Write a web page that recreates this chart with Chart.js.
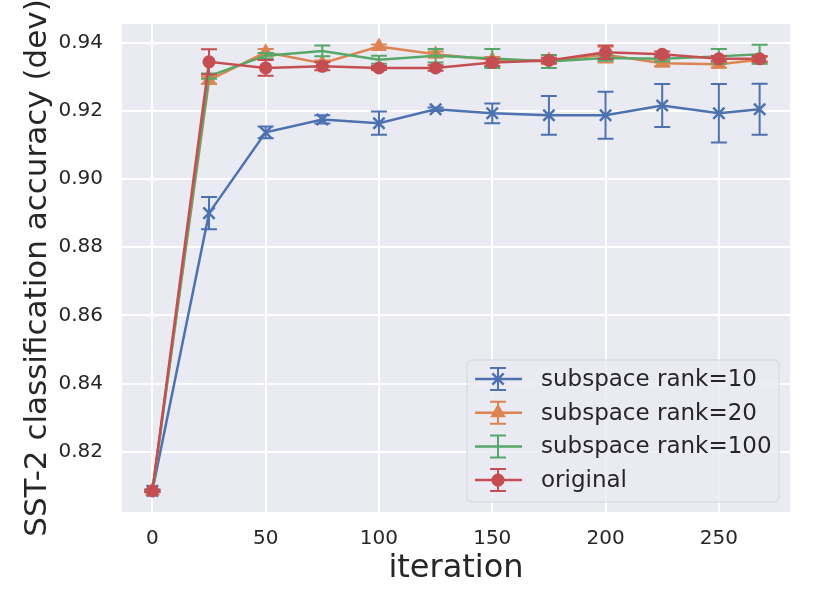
<!DOCTYPE html>
<html>
<head>
<meta charset="utf-8">
<script src="https://cdn.jsdelivr.net/npm/chart.js@4.4.0/dist/chart.umd.min.js"></script>
<style>
  html, body { margin: 0; padding: 0; background: #fff; }
  #wrap { width: 814px; height: 610px; }
</style>
</head>
<body>
<div id="wrap"><canvas id="accChart" width="814" height="610"></canvas></div>
<script>
// iterations and accuracies
const iterations = [0, 25, 50, 75, 100, 125, 150, 175, 200, 225, 250, 268];

const rank10 = [0.8085, 0.8900, 0.9137, 0.9175, 0.9164, 0.9205, 0.9193, 0.9187, 0.9187, 0.9216, 0.9193, 0.9205];
const rank10Err = [0.0003, 0.0047, 0.0017, 0.0012, 0.0034, 0.0005, 0.0029, 0.0057, 0.0069, 0.0063, 0.0086, 0.0075];

const rank20 = [0.8085, 0.9290, 0.9372, 0.9340, 0.9389, 0.9366, 0.9350, 0.9348, 0.9365, 0.9340, 0.9337, 0.9350];
const rank20Err = [0.0003, 0.0010, 0.0010, 0.0008, 0.0006, 0.0008, 0.0008, 0.0008, 0.0023, 0.0008, 0.0010, 0.0008];

const rank100 = [0.8085, 0.9302, 0.9362, 0.9376, 0.9350, 0.9362, 0.9354, 0.9345, 0.9355, 0.9353, 0.9360, 0.9366];
const rank100Err = [0.0003, 0.0008, 0.0008, 0.0016, 0.0012, 0.0020, 0.0028, 0.0019, 0.0008, 0.0008, 0.0022, 0.0028];

const original = [0.8085, 0.9344, 0.9326, 0.9331, 0.9326, 0.9326, 0.9342, 0.9348, 0.9372, 0.9366, 0.9353, 0.9353];
const originalErr = [0.0003, 0.0037, 0.0023, 0.0012, 0.0006, 0.0008, 0.0010, 0.0008, 0.0020, 0.0008, 0.0008, 0.0008];

const xTicks = [0, 50, 100, 150, 200, 250];
const yTicks = [0.82, 0.84, 0.86, 0.88, 0.90, 0.92, 0.94];

const FONT = "'DejaVu Sans', sans-serif";
const TEXT = '#262626';

function pts(ys) {
  return iterations.map((x, i) => ({ x: x, y: ys[i] }));
}

const series = [
  { label: 'subspace rank=10', data: rank10, err: rank10Err, color: '#4c72b0', marker: 'crossRot', radius: 8, order: 4 },
  { label: 'subspace rank=20', data: rank20, err: rank20Err, color: '#dd8452', marker: 'triangle', radius: 6.5, order: 3 },
  { label: 'subspace rank=100', data: rank100, err: rank100Err, color: '#55a868', marker: false, radius: 0, order: 2 },
  { label: 'original', data: original, err: originalErr, color: '#c44e52', marker: 'circle', radius: 5.3, order: 1 }
];

// axes background (seaborn darkgrid)
const bgPlugin = {
  id: 'bg',
  beforeDraw(chart) {
    const { ctx, chartArea: a } = chart;
    ctx.save();
    ctx.fillStyle = '#eaeaf2';
    ctx.fillRect(a.left, a.top, a.right - a.left, a.bottom - a.top);
    ctx.restore();
  }
};

// error bars, drawn right after each dataset so stacking matches
const errPlugin = {
  id: 'errbars',
  afterDatasetDraw(chart, args) {
    const ds = chart.data.datasets[args.index];
    const yScale = chart.scales.y;
    const ctx = chart.ctx;
    ctx.save();
    ctx.strokeStyle = ds.borderColor;
    ctx.lineWidth = 2;
    args.meta.data.forEach((p, i) => {
      const v = ds.data[i].y, e = ds.errors[i];
      const y1 = yScale.getPixelForValue(v - e);
      const y2 = yScale.getPixelForValue(v + e);
      ctx.beginPath();
      ctx.moveTo(p.x, y1); ctx.lineTo(p.x, y2);
      ctx.moveTo(p.x - 8, y1); ctx.lineTo(p.x + 8, y1);
      ctx.moveTo(p.x - 8, y2); ctx.lineTo(p.x + 8, y2);
      ctx.stroke();
    });
    ctx.restore();
  }
};

// legend box in the lower right of the axes
const legendPlugin = {
  id: 'boxLegend',
  afterDraw(chart) {
    const ctx = chart.ctx;
    const bx = 467, by = 360, bw = 312, bh = 142;
    ctx.save();
    ctx.beginPath();
    ctx.roundRect(bx, by, bw, bh, 5);
    ctx.fillStyle = 'rgba(234,234,242,0.8)';
    ctx.fill();
    ctx.strokeStyle = '#d5d5dc';
    ctx.lineWidth = 1;
    ctx.stroke();
    ctx.font = '23px ' + FONT;
    ctx.textBaseline = 'middle';
    chart.data.datasets.forEach((ds, i) => {
      const cy = 379 + i * 33.7;
      const cx = 498;
      ctx.strokeStyle = ds.borderColor;
      ctx.fillStyle = ds.borderColor;
      ctx.lineWidth = 2.5;
      ctx.beginPath();
      ctx.moveTo(475, cy); ctx.lineTo(522, cy);
      ctx.stroke();
      ctx.lineWidth = 2;
      ctx.beginPath();
      ctx.moveTo(cx, cy - 11); ctx.lineTo(cx, cy + 11);
      ctx.moveTo(cx - 8, cy - 11); ctx.lineTo(cx + 8, cy - 11);
      ctx.moveTo(cx - 8, cy + 11); ctx.lineTo(cx + 8, cy + 11);
      ctx.stroke();
      if (ds.pointStyle) {
        ctx.lineWidth = ds.pointBorderWidth;
        Chart.helpers.drawPoint(ctx, {
          pointStyle: ds.pointStyle,
          radius: ds.pointRadius,
          borderWidth: ds.pointBorderWidth
        }, cx, cy);
      }
      ctx.fillStyle = TEXT;
      ctx.fillText(ds.label, 541, cy + 1);
    });
    ctx.restore();
  }
};

new Chart(document.getElementById('accChart'), {
  type: 'line',
  data: {
    datasets: series.map(s => ({
      label: s.label,
      data: pts(s.data),
      errors: s.err,
      borderColor: s.color,
      backgroundColor: s.color,
      borderWidth: 2.5,
      pointStyle: s.marker,
      pointRadius: s.radius,
      pointBorderWidth: 2.5,
      pointBackgroundColor: s.color,
      pointBorderColor: s.color,
      tension: 0,
      order: s.order
    }))
  },
  options: {
    responsive: false,
    animation: false,
    devicePixelRatio: 1,
    layout: { padding: { left: 0, right: 24, top: 24, bottom: 0 } },
    plugins: {
      legend: { display: false },
      tooltip: { enabled: false }
    },
    scales: {
      x: {
        type: 'linear',
        min: -13.4,
        max: 281.4,
        afterFit(s) { s.height = 98; s.paddingLeft = 0; s.paddingRight = 0; },
        afterBuildTicks(s) { s.ticks = xTicks.map(v => ({ value: v })); },
        grid: { color: '#ffffff', lineWidth: 2, drawTicks: false },
        border: { display: false },
        ticks: {
          color: TEXT,
          font: { family: FONT, size: 20 },
          padding: 15,
          maxRotation: 0,
          autoSkip: false
        },
        title: {
          display: true,
          text: 'iteration',
          color: TEXT,
          font: { family: FONT, size: 32 },
          padding: { top: 0, bottom: 22 }
        }
      },
      y: {
        type: 'linear',
        min: 0.8023,
        max: 0.9455,
        afterFit(s) { s.width = 122; s.paddingTop = 0; s.paddingBottom = 0; },
        afterBuildTicks(s) { s.ticks = yTicks.map(v => ({ value: v })); },
        grid: { color: '#ffffff', lineWidth: 2, drawTicks: false },
        border: { display: false },
        ticks: {
          color: TEXT,
          font: { family: FONT, size: 20 },
          padding: 19,
          callback: v => v.toFixed(2)
        },
        title: {
          display: true,
          text: 'SST-2 classification accuracy (dev)',
          color: TEXT,
          font: { family: FONT, size: 31 },
          padding: { top: 19, bottom: 0 }
        }
      }
    }
  },
  plugins: [bgPlugin, errPlugin, legendPlugin]
});
</script>
</body>
</html>
